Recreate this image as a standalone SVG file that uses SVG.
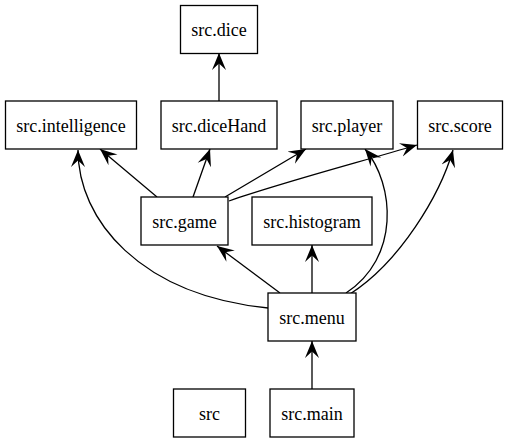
<svg xmlns="http://www.w3.org/2000/svg" width="508" height="443" viewBox="0 0 508 443">
<style>
.n rect{fill:#fff;stroke:#000;stroke-width:1.3}
.n text{font-family:'Liberation Serif','Times New Roman',serif;font-size:18px;text-anchor:middle;fill:#000}
.e path{fill:none;stroke:#000;stroke-width:1.3;marker-end:url(#vee)}
</style>
<defs>
<marker id="vee" viewBox="0 0 17 16" refX="17" refY="8" markerWidth="17" markerHeight="16" markerUnits="userSpaceOnUse" orient="auto">
<path d="M17,8 L0,1 L6.5,8 L0,15 Z" fill="#000"/>
</marker>
</defs>
<rect width="508" height="443" fill="#fff"/>
<g class="e" id="edges">
<path d="M219,101 L219,53"/>
<path d="M157,197 L100,149"/>
<path d="M193,197 L210,149"/>
<path d="M225,197 L306,149"/>
<path d="M229,201 C280,183 360,162 417,145"/>
<path d="M268,308 C140,295 78,220 78,150"/>
<path d="M280,293 L217,246"/>
<path d="M312,293 L312,245"/>
<path d="M312,389 L312,341"/>
<path d="M346,293 C400,258 395,185 365,149"/>
<path d="M350,294 C400,262 440,195 453,150"/>
</g>
<g class="n" id="src_dice"><rect x="180.5" y="5.5" width="77" height="48"/><text x="219" y="36">src.dice</text></g>
<g class="n" id="src_intelligence"><rect x="5.5" y="101" width="131" height="48"/><text x="71" y="131.5">src.intelligence</text></g>
<g class="n" id="src_diceHand"><rect x="161" y="101" width="116" height="48"/><text x="219" y="131.5">src.diceHand</text></g>
<g class="n" id="src_player"><rect x="301" y="101" width="92" height="48"/><text x="347" y="131.5">src.player</text></g>
<g class="n" id="src_score"><rect x="417.5" y="101" width="85" height="48"/><text x="460" y="131.5">src.score</text></g>
<g class="n" id="src_game"><rect x="141" y="197" width="87" height="48"/><text x="184.5" y="227.5">src.game</text></g>
<g class="n" id="src_histogram"><rect x="252" y="197" width="120" height="48"/><text x="312" y="227.5">src.histogram</text></g>
<g class="n" id="src_menu"><rect x="268" y="293" width="88" height="48"/><text x="312" y="323.5">src.menu</text></g>
<g class="n" id="src"><rect x="173.5" y="389" width="72" height="48"/><text x="209.5" y="419.5">src</text></g>
<g class="n" id="src_main"><rect x="270" y="389" width="84" height="48"/><text x="312" y="419.5">src.main</text></g>
</svg>
